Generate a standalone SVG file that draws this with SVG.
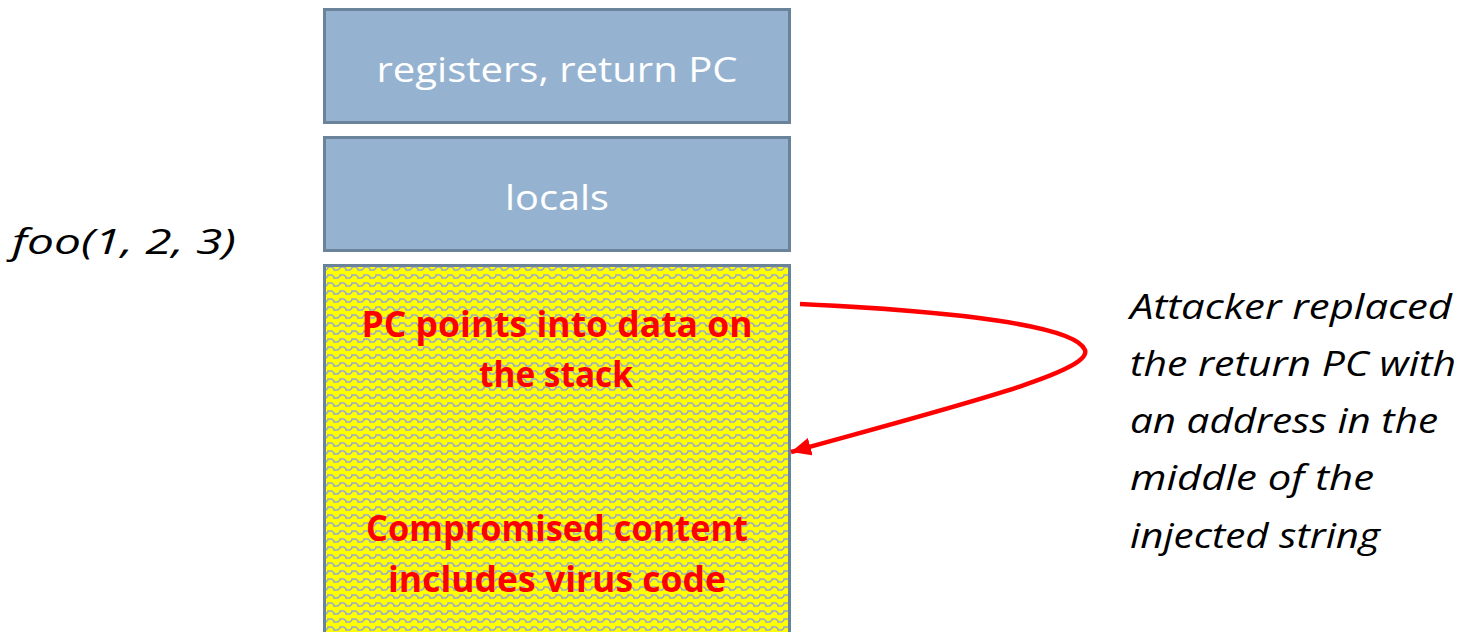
<svg xmlns="http://www.w3.org/2000/svg" width="1474" height="632" viewBox="0 0 1474 632">
<style>
.box{fill:#95B3D1;stroke:#6A839B;stroke-width:3}
.wt{font-family:"Open Sans","Noto Sans",sans-serif;font-size:34px;fill:#fff;text-anchor:middle}
.rt{font-family:"Open Sans","Noto Sans",sans-serif;font-size:35px;font-weight:bold;fill:#FF0000;text-anchor:middle}
.it{font-family:"Open Sans","Noto Sans",sans-serif;font-size:34px;font-style:italic;fill:#000}
</style>
<defs>
<pattern id="zig" width="12" height="8" patternUnits="userSpaceOnUse">
<rect width="12" height="8" fill="#FFFF00"/>
<path d="M0 6 L2 6 L4 4 L4 3 L8 3 L10 5 L10 6 L12 6" fill="none" stroke="#98A9CC" stroke-width="1.6"/>
</pattern>
<marker id="ah" markerWidth="20" markerHeight="18" viewBox="0 0 20 18" refX="20" refY="9" orient="auto" markerUnits="userSpaceOnUse">
<path d="M0 0 L20 9 L0 18 Z" fill="#FF0000"/>
</marker>
</defs>
<g id="node-registers">
<rect class="box" x="324.5" y="9.5" width="465" height="113"/>
<text class="wt" x="557" y="82" textLength="361" lengthAdjust="spacingAndGlyphs">registers, return PC</text>
</g>
<g id="node-locals">
<rect class="box" x="324.5" y="137.5" width="465" height="113"/>
<text class="wt" x="557" y="210" textLength="104" lengthAdjust="spacingAndGlyphs">locals</text>
</g>
<g id="node-compromised">
<rect x="324.5" y="265.5" width="465" height="380" fill="url(#zig)" stroke="#6A839B" stroke-width="3"/>
<text class="rt" x="557" y="337" textLength="391" lengthAdjust="spacingAndGlyphs">PC points into data on</text>
<text class="rt" x="556" y="387" textLength="154" lengthAdjust="spacingAndGlyphs">the stack</text>
<text class="rt" x="557" y="541" textLength="382" lengthAdjust="spacingAndGlyphs">Compromised content</text>
<text class="rt" x="557" y="592" textLength="338" lengthAdjust="spacingAndGlyphs">includes virus code</text>
</g>
<g id="label-foo">
<text class="it" x="12" y="254" textLength="224" lengthAdjust="spacingAndGlyphs">foo(1, 2, 3)</text>
</g>
<g id="label-attacker">
<text class="it" x="1130" y="319" textLength="322" lengthAdjust="spacingAndGlyphs">Attacker replaced</text>
<text class="it" x="1130" y="376" textLength="326" lengthAdjust="spacingAndGlyphs">the return PC with</text>
<text class="it" x="1130" y="433" textLength="308" lengthAdjust="spacingAndGlyphs">an address in the</text>
<text class="it" x="1130" y="490" textLength="244" lengthAdjust="spacingAndGlyphs">middle of  the</text>
<text class="it" x="1130" y="548" textLength="250" lengthAdjust="spacingAndGlyphs">injected string</text>
</g>
<g id="connectors">
<path d="M800 304 C 950 311, 1075 325, 1085 350 C 1092 372, 960 405, 791 452" fill="none" stroke="#FF0000" stroke-width="4.5" marker-end="url(#ah)"/>
</g>
</svg>
